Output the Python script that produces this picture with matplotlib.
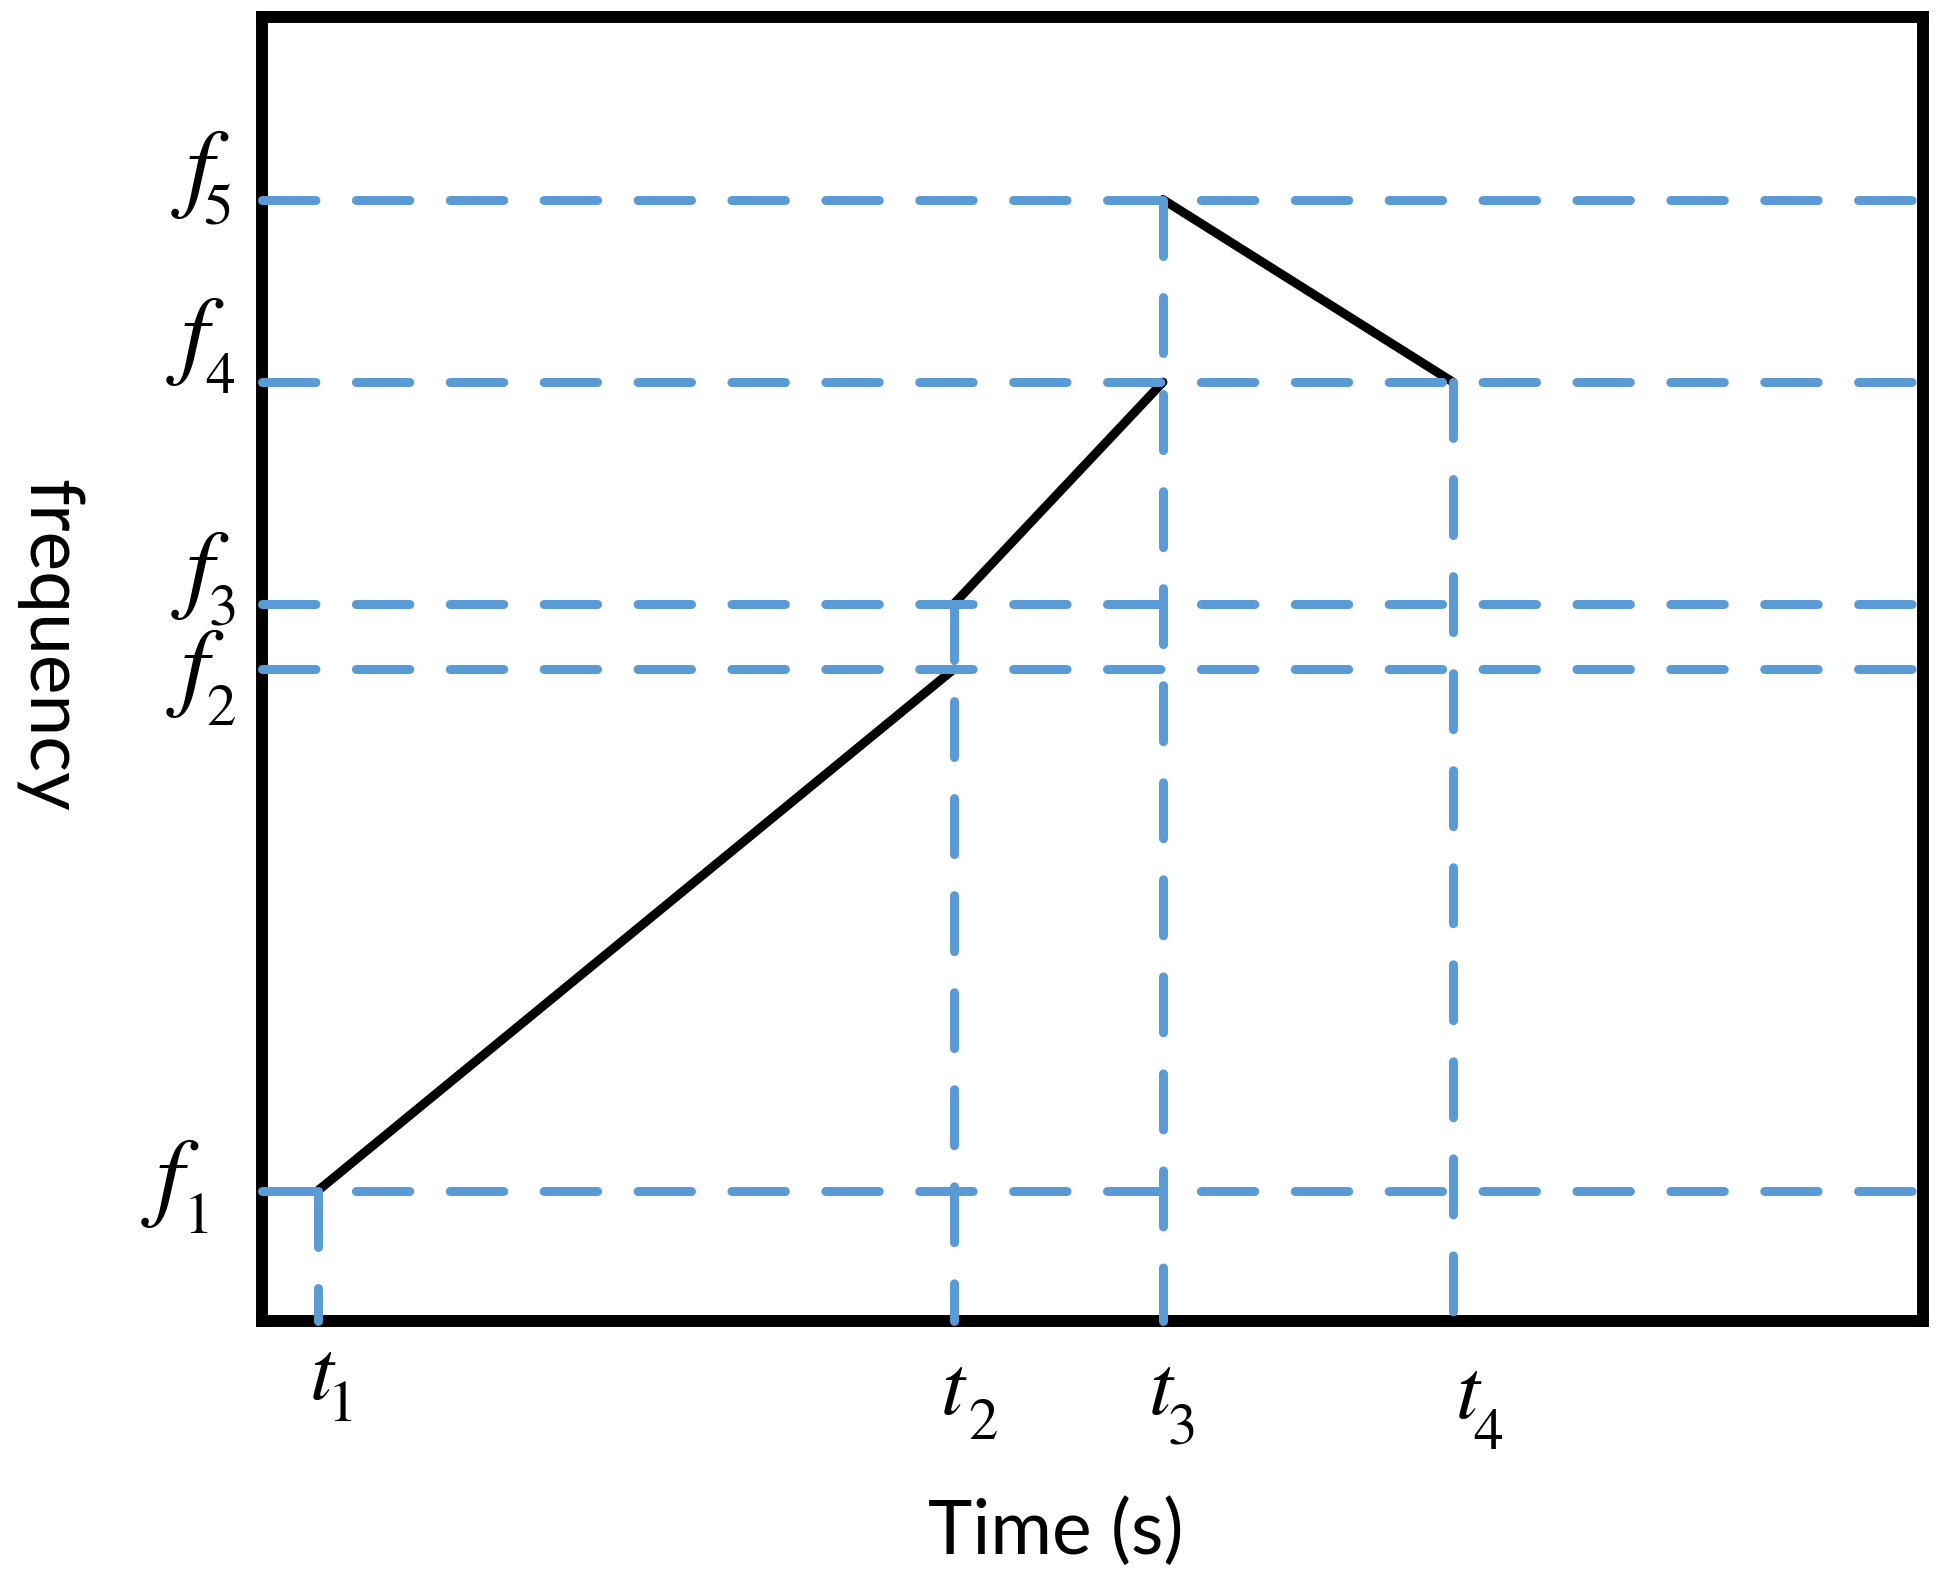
import matplotlib
matplotlib.use('Agg')
import matplotlib.pyplot as plt
from matplotlib.transforms import offset_copy, blended_transform_factory

# ---- data (arbitrary units, axes span 0..100) ----
t_vals = [3.37, 41.66, 54.24, 71.7]
f_vals = [10.0, 50.0, 55.0, 72.0, 86.0]
t_subs = ['1', '2', '3', '4']
f_subs = ['1', '2', '3', '4', '5']
# chirp segments: (t index start, t index end), (f index start, f index end)
seg_t = [(0, 1), (1, 2), (2, 3)]
seg_f = [(0, 1), (2, 3), (4, 3)]
# vertical guide for each t starts at this f index and goes down to the axis
v_start = [0, 2, 4, 3]
x_label = 'Time (s)'
y_label = 'frequency'

# ---- label placement (pixels) ----
f_lab_off = [(-92, 17, -64, 42), (-67, 29, -41, 56), (-62, -4, -39, 21),
             (-67, -16, -42, 11), (-62, -1, -44, 25)]
t_lab_off = [(4, 78, 24, 100), (-1, 93, 29, 118), (-2, 93, 19, 123),
             (15, 97, 35, 128)]

W, H = 1945, 1585
fig = plt.figure(figsize=(W / 100, H / 100), dpi=100)
ax = fig.add_axes([262 / W, 1 - 1321 / H, (1923 - 262) / W, (1321 - 17) / H])
ax.set_xlim(0, 100)
ax.set_ylim(0, 100)
ax.set_xticks([])
ax.set_yticks([])
for s in ax.spines.values():
    s.set_linewidth(8.6)
    s.set_color('black')
    s.set_zorder(2.5)

blue = '#5B9BD5'
lw = 6.5

# horizontal guides
for fv in f_vals:
    ax.plot([0, 100], [fv, fv], color=blue, lw=lw, linestyle=(0, (5.92, 4.48)),
            dash_capstyle='round', solid_capstyle='round', zorder=4, clip_on=False)

# vertical guides
for i, tv in enumerate(t_vals):
    ax.plot([tv, tv], [f_vals[v_start[i]], 0], color=blue, lw=lw,
            linestyle=(0, (6.2, 4.55)), dash_capstyle='round',
            solid_capstyle='round', zorder=4, clip_on=False)

# chirp path
for (a, b), (c, d) in zip(seg_t, seg_f):
    ax.plot([t_vals[a], t_vals[b]], [f_vals[c], f_vals[d]], color='black',
            lw=lw, solid_capstyle='round', zorder=3)

serif = 'STIXGeneral'
trans_f = blended_transform_factory(ax.transAxes, ax.transData)
for i, fv in enumerate(f_vals):
    dx1, dy1, dx2, dy2 = f_lab_off[i]
    ax.text(0, fv, 'f', transform=offset_copy(trans_f, fig=fig, x=dx1, y=-dy1, units='dots'),
            family=serif, style='italic', fontsize=72, ha='center', va='baseline')
    ax.text(0, fv, f_subs[i], transform=offset_copy(trans_f, fig=fig, x=dx2, y=-dy2, units='dots'),
            family=serif, fontsize=42.5, ha='center', va='baseline')

trans_t = blended_transform_factory(ax.transData, ax.transAxes)
for i, tv in enumerate(t_vals):
    dx1, dy1, dx2, dy2 = t_lab_off[i]
    ax.text(tv, 0, 't', transform=offset_copy(trans_t, fig=fig, x=dx1, y=-dy1, units='dots'),
            family=serif, style='italic', fontsize=62, ha='center', va='baseline')
    ax.text(tv, 0, t_subs[i], transform=offset_copy(trans_t, fig=fig, x=dx2, y=-dy2, units='dots'),
            family=serif, fontsize=42.5, ha='center', va='baseline')

fig.text(1056 / W, 1 - 1554 / H, x_label, family='Lato', fontsize=54,
         ha='center', va='baseline')
fig.text(49 / W, 1 - 645 / H, y_label, family='Lato', fontsize=54,
         rotation=-90, ha='center', va='center')

fig.savefig('out.png', dpi=100, facecolor='white')
